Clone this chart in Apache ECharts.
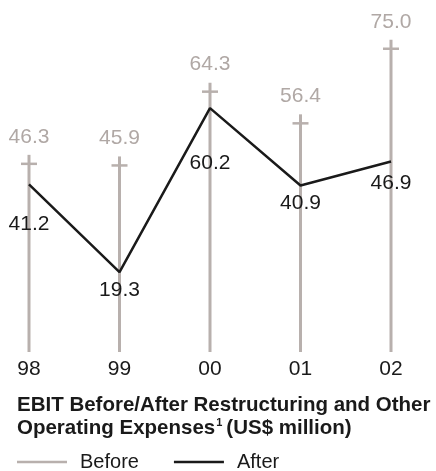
<!DOCTYPE html>
<html>
<head>
<meta charset="utf-8">
<script src="https://cdn.jsdelivr.net/npm/echarts@6/dist/echarts.min.js"></script>
<style>
  html, body { margin: 0; padding: 0; background: #ffffff; }
  #chart { width: 436px; height: 471px; }
</style>
</head>
<body>
<div id="chart"></div>
<script>
// EBIT before / after restructuring and other operating expenses (US$ million)
const years = ['98', '99', '00', '01', '02'];
const ebitBefore = [46.3, 45.9, 64.3, 56.4, 75.0];
const ebitAfter = [41.2, 19.3, 60.2, 40.9, 46.9];

// vertical label offsets (px) for the "After" values, below the line
const afterLabelDy = [40, 18, 55, 18, 22];

const GREY = '#b8b0ad';
const GREY_TEXT = '#b0a8a5';
const INK = '#1a1a1a';
const FONT = '"Liberation Sans", Arial, Helvetica, sans-serif';

const chart = echarts.init(document.getElementById('chart'), null, { renderer: 'canvas' });

chart.setOption({
  backgroundColor: '#ffffff',
  animation: false,
  title: {
    left: 17,
    top: 394,
    padding: 0,
    text: '{b|EBIT Before/After Restructuring and Other}\n{b|Operating Expenses}{s|1}{b|(US$ million)}',
    textStyle: {
      fontFamily: FONT,
      rich: {
        b: { fontSize: 20.5, fontWeight: 'bold', color: INK, lineHeight: 23, fontFamily: FONT },
        s: { fontSize: 11, fontWeight: 'bold', color: INK, lineHeight: 23, verticalAlign: 'top', padding: [0, 4, 8, 1], fontFamily: FONT }
      }
    }
  },
  legend: {
    left: 17,
    top: 452,
    padding: 0,
    itemWidth: 50,
    itemHeight: 2.5,
    itemGap: 35,
    selectedMode: false,
    textStyle: { fontFamily: FONT, fontSize: 20, color: INK, padding: [0, 0, 0, 8] },
    data: [
      { name: 'Before', icon: 'rect', itemStyle: { color: GREY } },
      { name: 'After', icon: 'rect', itemStyle: { color: INK } }
    ]
  },
  grid: { left: 29, right: 45, top: 28.7, bottom: 121.5, containLabel: false },
  xAxis: {
    type: 'category',
    data: years,
    boundaryGap: false,
    axisLine: { show: false },
    axisTick: { show: false },
    splitLine: { show: false },
    axisLabel: { margin: 9, fontFamily: FONT, fontSize: 21, color: INK }
  },
  yAxis: {
    type: 'value',
    min: 0,
    max: 80,
    show: false
  },
  series: [
    {
      name: 'Before',
      type: 'custom',
      color: GREY,
      data: ebitBefore.map((v, i) => [i, v]),
      encode: { x: 0, y: 1 },
      z: 1,
      renderItem: function (params, api) {
        const i = api.value(0);
        const v = api.value(1);
        const top = api.coord([i, v]);
        const base = api.coord([i, 0]);
        return {
          type: 'group',
          children: [
            {
              type: 'line',
              shape: { x1: top[0], y1: base[1] + 2.5, x2: top[0], y2: top[1] - 9 },
              style: { stroke: GREY, lineWidth: 3 }
            },
            {
              type: 'line',
              shape: { x1: top[0] - 8, y1: top[1], x2: top[0] + 8, y2: top[1] },
              style: { stroke: GREY, lineWidth: 2.5 }
            },
            {
              type: 'text',
              x: top[0],
              y: top[1] - 27,
              style: {
                text: v.toFixed(1),
                fill: GREY_TEXT,
                font: '21px ' + FONT,
                align: 'center',
                verticalAlign: 'middle'
              }
            }
          ]
        };
      }
    },
    {
      name: 'After',
      type: 'line',
      color: INK,
      z: 3,
      symbol: 'circle',
      symbolSize: 0.1,
      lineStyle: { color: INK, width: 2.5 },
      itemStyle: { color: INK },
      data: ebitAfter.map((v, i) => ({
        value: v,
        label: { offset: [0, afterLabelDy[i]] }
      })),
      label: {
        show: true,
        position: 'inside',
        fontFamily: FONT,
        fontSize: 21,
        color: INK,
        formatter: p => p.value.toFixed(1)
      }
    }
  ]
});
</script>
</body>
</html>
